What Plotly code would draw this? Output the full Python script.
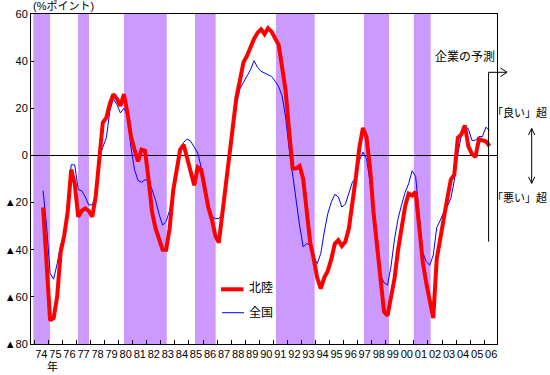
import plotly.graph_objects as go

# ---- data (quarterly, from 1974 Q3 to 2006 Q2 forecast) ----
start_year = 1974
start_quarter = 3
hokuriku = [
    -22, -47, -70, -69, -60, -41, -34, -24, -6, -12,
    -26, -23.5, -22.5, -23.5, -26, -17, 0, 14, 16, 22,
    26, 24, 21, 26, 18, 8, 2.5, -2.5, 2.5, 2,
    -10, -24, -31, -36, -40, -40, -31, -15, -7, 2.5,
    4.5, -1, -8, -12.7, -5, -6, -14, -22, -27, -34,
    -37, -24.7, -10, 2, 14, 24.7, 31.8, 39.5, 42.2, 46.4,
    49.4, 52, 53.5, 51.5, 54, 52.5, 50, 47, 37.5, 27.5,
    10.5, -5.5, -5.5, -4.5, -10, -25, -37, -44, -52, -56.5,
    -51.8, -49, -44, -37.5, -36, -38.4, -36.5, -31, -20.5, -9.2,
    3.5, 11.7, 7.8, -5, -24, -38.8, -52.2, -66.3, -68, -60,
    -52, -40, -29.6, -21.6, -16.2, -17, -15.5, -31.8, -45, -54,
    -61, -69, -43.8, -34.6, -25.8, -18.3, -10.3, -8, 7.5, 8.9,
    12.7, 3.8, 0.7, -0.7, 6.9, 6.6, 5.9, 4,
]
zenkoku = [
    -15, -30, -50, -52.5, -46, -38, -34, -17.6, -4, -4,
    -14.5, -15, -17.6, -21, -21, -17, -0.7, 3.5, 7.5, 19,
    24, 21.6, 18, 20, 17, 3.5, -6, -10.6, -11.4, -10.3,
    -10.6, -14.5, -19, -25, -29.6, -28, -23.3, -14.5, -7, 1.4,
    5.5, 7, 6, 3.5, 1, -5.2, -14, -22, -25.8, -26.8,
    -26.8, -24.7, -11.3, 1.4, 12.7, 21.6, 28.2, 31, 33.7, 36.3,
    40.2, 37.4, 35.7, 34.9, 34.2, 33.5, 31.5, 29.2, 25.3, 16.2,
    2.8, -8.5, -20.5, -30, -38.8, -37.4, -38, -43, -45.9, -41.6,
    -32.5, -24.7, -19.8, -16.5, -17.6, -21.9, -20.7, -16, -11.3, -9.5,
    -2.1, 1.4, -1.4, -10.9, -25.4, -41.6, -51, -54, -55, -46.9,
    -35.3, -26.8, -20.9, -15.7, -12, -6.5, -9, -26.8, -41, -45,
    -46.6, -42.3, -30.6, -27.5, -24, -21.6, -18.3, -10.6, 0.7, 8.5,
    12, 11.3, 6.4, 6.4, 8, 8, 12, 10.6,
]
# recession periods (shaded), in fractional years
recession_start = [1973.93, 1977.11, 1980.38, 1985.43, 1991.19, 1997.45, 2001.00]
recession_end = [1975.12, 1977.89, 1983.42, 1986.90, 1993.94, 1999.23, 2002.19]
year_labels = ["74", "75", "76", "77", "78", "79", "80", "81", "82", "83", "84",
               "85", "86", "87", "88", "89", "90", "91", "92", "93", "94", "95",
               "96", "97", "98", "99", "00", "01", "02", "03", "04", "05", "06"]
y_ticks = [-80, -60, -40, -20, 0, 20, 40, 60]
y_labels = ["▲80", "▲60", "▲40", "▲20", "0", "20", "40", "60"]

# quarter midpoints
xq = []
y, q = start_year, start_quarter
for _ in hokuriku:
    xq.append(y + (q - 0.5) / 4)
    q += 1
    if q > 4:
        q, y = 1, y + 1

# ---- layout geometry ----
W, H = 550, 375
L, R, T, B = 31, 497, 14, 344
FONT = "Liberation Sans, Noto Sans CJK JP, sans-serif"


def px(x):
    return (x - L) / (R - L)


def py(y):
    return (B - y) / (B - T)


fig = go.Figure()
fig.add_trace(go.Scatter(x=xq, y=zenkoku, mode="lines", name="全国",
                         line=dict(color="#0000FF", width=1)))
fig.add_trace(go.Scatter(x=xq, y=hokuriku, mode="lines", name="北陸",
                         line=dict(color="#FF0000", width=4)))

shapes = []
for s, e in zip(recession_start, recession_end):
    shapes.append(dict(type="rect", xref="x", yref="paper", x0=s, x1=e, y0=0, y1=1,
                       fillcolor="#CC99FF", line=dict(width=0), layer="below"))

blk = dict(color="black", width=1)
# forecast bracket
shapes.append(dict(type="line", xref="paper", yref="paper", x0=px(488.6), x1=px(488.6),
                   y0=py(72.3), y1=py(241.7), line=blk))
shapes.append(dict(type="line", xref="paper", yref="paper", x0=px(488.6), x1=px(507),
                   y0=py(72.3), y1=py(72.3), line=blk))
shapes.append(dict(type="path", xref="paper", yref="paper",
                   path=f"M {px(500.5)} {py(68)} L {px(507)} {py(72.3)} L {px(500.5)} {py(76.6)}",
                   line=blk))
# double arrow
shapes.append(dict(type="line", xref="paper", yref="paper", x0=px(531.7), x1=px(531.7),
                   y0=py(128.5), y1=py(183.3), line=blk))
shapes.append(dict(type="path", xref="paper", yref="paper",
                   path=f"M {px(528.5)} {py(135)} L {px(531.7)} {py(128.5)} L {px(534.9)} {py(135)}",
                   line=blk))
shapes.append(dict(type="path", xref="paper", yref="paper",
                   path=f"M {px(528.5)} {py(176.8)} L {px(531.7)} {py(183.3)} L {px(534.9)} {py(176.8)}",
                   line=blk))
# legend lines
shapes.append(dict(type="line", xref="paper", yref="paper", x0=px(221), x1=px(243.5),
                   y0=py(289.3), y1=py(289.3), line=dict(color="#FF0000", width=4)))
shapes.append(dict(type="line", xref="paper", yref="paper", x0=px(222), x1=px(244),
                   y0=py(312.7), y1=py(312.7), line=dict(color="#0000FF", width=1)))


def ann(text, x, y, size=12, xanchor="left"):
    return dict(text=text, x=px(x), y=py(y), xref="paper", yref="paper",
                xanchor=xanchor, yanchor="middle", showarrow=False,
                font=dict(family=FONT, size=size, color="black"))


annotations = [
    ann("(%ポイント)", 31, 6, 11),
    ann("年", 52, 366, 11, "center"),
    ann("企業の予測", 433, 57, 12),
    ann("「良い」超", 549, 112, 11, "right"),
    ann("「悪い」超", 549, 197, 11, "right"),
    ann("北陸", 247, 287.5, 12),
    ann("全国", 247, 312.5, 12),
]

fig.update_layout(
    width=W, height=H, autosize=False,
    margin=dict(l=L, r=W - R, t=T, b=H - B, pad=0),
    paper_bgcolor="white", plot_bgcolor="white",
    showlegend=False,
    font=dict(family=FONT, size=11, color="black"),
    shapes=shapes, annotations=annotations,
    xaxis=dict(range=[1973.765, 2006.91], showgrid=False, zeroline=False,
               showline=True, mirror=True, linecolor="black", linewidth=1,
               automargin=False, tickangle=0,
               tickmode="array", tickvals=[1974.5 + k for k in range(len(year_labels))],
               ticktext=year_labels, ticks="", tickfont=dict(size=11),
               minor=dict(tickmode="array", tickvals=[1974 + k for k in range(len(year_labels))],
                          ticks="inside", ticklen=4, tickcolor="black", tickwidth=1,
                          showgrid=False)),
    yaxis=dict(range=[-80, 60], showgrid=False, zeroline=True, zerolinecolor="black",
               zerolinewidth=1, showline=True, mirror=True, linecolor="black", linewidth=1,
               automargin=False,
               tickmode="array", tickvals=y_ticks, ticktext=y_labels,
               ticks="inside", ticklen=3, tickcolor="black", tickfont=dict(size=11)),
)

fig.write_html("out.html",
               config={"displayModeBar": False},
               post_script="document.body.style.margin='0';document.body.style.padding='0';")
